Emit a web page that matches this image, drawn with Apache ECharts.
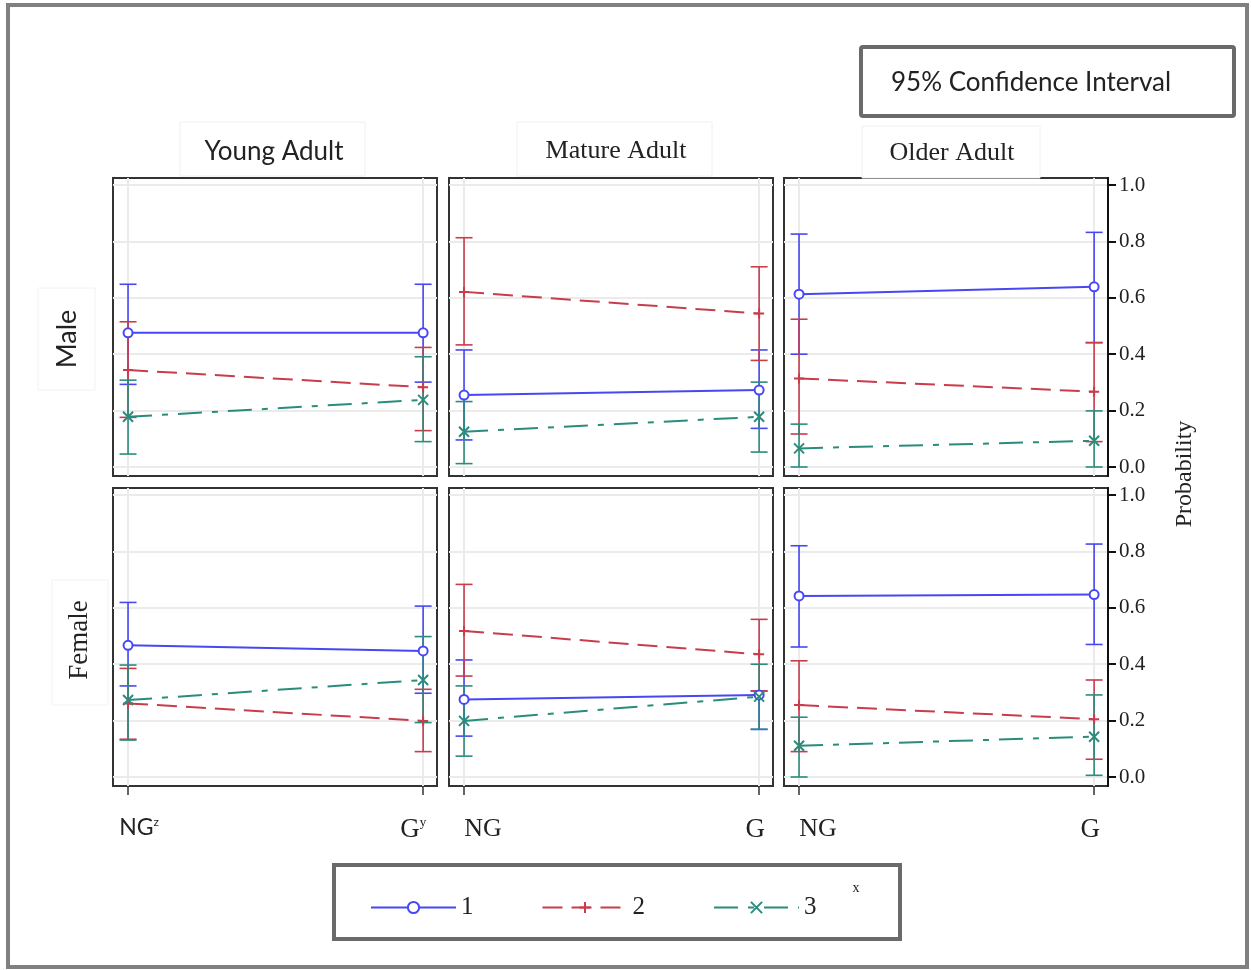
<!DOCTYPE html>
<html><head><meta charset="utf-8">
<script src="https://cdn.jsdelivr.net/npm/echarts@6/dist/echarts.min.js"></script>
<style>html,body{margin:0;padding:0;background:#fff}#c{width:1251px;height:970px}</style>
</head><body><div id="c"></div><script>
// ---------- data ----------
const ageGroups = ['Young Adult', 'Mature Adult', 'Older Adult'];
const sexGroups = ['Male', 'Female'];
const xValues = [0, 1]; // NG, G
const yTicks = [0, 0.2, 0.4, 0.6, 0.8, 1.0];
const seriesNames = ['1', '2', '3'];
// panels order: Male-Young, Male-Mature, Male-Older, Female-Young, Female-Mature, Female-Older
const mean1 = [[0.476,0.476],[0.255,0.273],[0.613,0.639],[0.467,0.447],[0.275,0.291],[0.642,0.647]];
const low1  = [[0.293,0.301],[0.096,0.137],[0.400,0.441],[0.323,0.297],[0.145,0.169],[0.461,0.470]];
const high1 = [[0.648,0.648],[0.415,0.415],[0.826,0.832],[0.619,0.606],[0.415,0.305],[0.820,0.826]];
const mean2 = [[0.344,0.283],[0.621,0.544],[0.314,0.267],[0.261,0.199],[0.518,0.435],[0.255,0.205]];
const low2  = [[0.176,0.129],[0.433,0.378],[0.117,0.090],[0.134,0.090],[0.358,0.305],[0.090,0.063]];
const high2 = [[0.515,0.424],[0.813,0.710],[0.524,0.441],[0.385,0.311],[0.683,0.559],[0.412,0.344]];
const mean3 = [[0.178,0.238],[0.125,0.178],[0.066,0.093],[0.273,0.344],[0.199,0.285],[0.111,0.143]];
const low3  = [[0.046,0.090],[0.012,0.053],[0.000,0.000],[0.131,0.193],[0.074,0.169],[0.000,0.006]];
const high3 = [[0.308,0.391],[0.232,0.301],[0.152,0.199],[0.397,0.498],[0.323,0.400],[0.212,0.291]];

// ---------- styles ----------
const colors = ['#4747F5', '#C83C4C', '#2A8C7C'];
const dashes = ['solid', [20, 9], [24, 10, 6, 10]];
const symbols = ['emptyCircle', 'path://M0,5L10,5M5,0L5,10', 'path://M0,0L10,10M10,0L0,10'];
const means = [mean1, mean2, mean3], lows = [low1, low2, low3], highs = [high1, high2, high3];
const colLeft = [113, 449, 784], colW = 324, rowTop = [178, 488], rowH = 298;
const serif = 'Liberation Serif', sans = 'Lato';

function errRender(color) {
  return function (params, api) {
    const x = api.value(0), lo = api.value(1), hi = api.value(2);
    const p1 = api.coord([x, lo]), p2 = api.coord([x, hi]);
    const hw = 8.5;
    const style = { stroke: color, lineWidth: 1.6, fill: null };
    return { type: 'group', children: [
      { type: 'line', shape: { x1: p1[0], y1: p1[1], x2: p2[0], y2: p2[1] }, style },
      { type: 'line', shape: { x1: p1[0] - hw, y1: p1[1], x2: p1[0] + hw, y2: p1[1] }, style },
      { type: 'line', shape: { x1: p2[0] - hw, y1: p2[1], x2: p2[0] + hw, y2: p2[1] }, style }
    ]};
  };
}

const grids = [], xAxes = [], yAxes = [], series = [];
for (let r = 0; r < 2; r++) {
  for (let c = 0; c < 3; c++) {
    const i = r * 3 + c;
    grids.push({ left: colLeft[c], top: rowTop[r], width: colW, height: rowH, show: true,
      borderColor: '#333', borderWidth: 2, backgroundColor: '#fff' });
    const first = (c === 0);
    xAxes.push({ gridIndex: i, type: 'value', min: -0.051, max: 1.047, position: 'bottom',
      axisLine: { show: false, onZero: false },
      axisTick: { show: r === 1, customValues: xValues, length: 9, lineStyle: { color: '#333', width: 1.5 } },
      axisLabel: { show: r === 1, customValues: xValues, margin: 30,
        formatter: function (v) {
          if (first) return v === 0 ? '{ng1|NG}{sup|z}' : '{g1|G}{supy|y}';
          return v === 0 ? '{ng|NG}' : '{g|G}';
        },
        rich: {
          ng1: { fontFamily: sans, fontSize: 23, color: '#222', padding: [0, 0, 0, 22] },
          sup: { fontFamily: sans, fontSize: 12, color: '#222', verticalAlign: 'top', padding: [0, 0, 10, 0] },
          g1: { fontFamily: serif, fontSize: 27, color: '#222' },
          supy: { fontFamily: serif, fontSize: 13, color: '#222', padding: [0, 20, 14, 0] },
          ng: { fontFamily: serif, fontSize: 26, color: '#222', padding: [0, 0, 0, 38] },
          g: { fontFamily: serif, fontSize: 27, color: '#222', padding: [0, 8, 0, 0] }
        }
      },
      splitLine: { show: true, lineStyle: { color: '#ebebeb', width: 2 } }
    });
    yAxes.push({ gridIndex: i, type: 'value', min: -0.0319, max: 1.0248, position: 'right',
      axisLine: { show: c === 2, onZero: false, lineStyle: { color: '#111', width: 2 } },
      axisTick: { show: c === 2, customValues: yTicks, length: 8, lineStyle: { color: '#111', width: 2 } },
      axisLabel: { show: c === 2, customValues: yTicks, margin: 11, formatter: v => v.toFixed(1),
        fontFamily: serif, fontSize: 21, color: '#222' },
      splitLine: { show: true, lineStyle: { color: '#ebebeb', width: 2 } }
    });
    for (let s = 0; s < 3; s++) {
      series.push({ type: 'custom', name: 'ci' + seriesNames[s], xAxisIndex: i, yAxisIndex: i,
        renderItem: errRender(colors[s]), encode: { x: 0, y: [1, 2] }, z: 2,
        data: xValues.map((x, k) => [x, lows[s][i][k], highs[s][i][k]]) });
    }
    for (let s = 0; s < 3; s++) {
      series.push({ type: 'line', name: seriesNames[s], xAxisIndex: i, yAxisIndex: i, z: 3,
        symbol: symbols[s], symbolSize: s === 0 ? 9 : 10,
        itemStyle: { color: s === 0 ? colors[s] : 'rgba(0,0,0,0)', borderColor: colors[s], borderWidth: 2 },
        lineStyle: { color: colors[s], width: 2, type: dashes[s] },
        data: xValues.map((x, k) => [x, means[s][i][k]]), animation: false });
    }
  }
}

const graphic = [
  { type: 'rect', shape: { x: 8, y: 5, width: 1239, height: 962 }, style: { fill: null, stroke: '#808080', lineWidth: 4 }, z: 100 },
  { type: 'rect', shape: { x: 861, y: 47, width: 373, height: 69, r: 2 }, style: { fill: '#fff', stroke: '#6a6a6a', lineWidth: 4 }, z: 100 },
  { type: 'text', x: 891, y: 83, style: { text: '95% Confidence Interval', font: '26px Lato', fill: '#222', verticalAlign: 'middle' }, z: 101 },
  // column headers
  { type: 'rect', shape: { x: 180, y: 122, width: 185, height: 54 }, style: { fill: '#fff', stroke: '#f0f0f0', lineWidth: 1 }, z: 100 },
  { type: 'text', x: 274, y: 152, style: { text: ageGroups[0], font: '26px Lato', fill: '#222', align: 'center', verticalAlign: 'middle' }, z: 101 },
  { type: 'rect', shape: { x: 517, y: 122, width: 195, height: 54 }, style: { fill: '#fff', stroke: '#f0f0f0', lineWidth: 1 }, z: 100 },
  { type: 'text', x: 616, y: 151, style: { text: ageGroups[1], font: '26px "Liberation Serif"', fill: '#222', align: 'center', verticalAlign: 'middle' }, z: 101 },
  { type: 'rect', shape: { x: 862, y: 126, width: 178, height: 52 }, style: { fill: '#fff', stroke: '#f0f0f0', lineWidth: 1 }, z: 100 },
  { type: 'text', x: 952, y: 153, style: { text: ageGroups[2], font: '26px "Liberation Serif"', fill: '#222', align: 'center', verticalAlign: 'middle' }, z: 101 },
  // row labels
  { type: 'rect', shape: { x: 38, y: 288, width: 57, height: 102 }, style: { fill: '#fff', stroke: '#f2f2f2', lineWidth: 1 }, z: 100 },
  { type: 'text', x: 67, y: 339, rotation: Math.PI / 2, style: { text: sexGroups[0], font: '27px Lato', fill: '#222', align: 'center', verticalAlign: 'middle' }, z: 101 },
  { type: 'rect', shape: { x: 52, y: 580, width: 56, height: 125 }, style: { fill: '#fff', stroke: '#f2f2f2', lineWidth: 1 }, z: 100 },
  { type: 'text', x: 80, y: 640, rotation: Math.PI / 2, style: { text: sexGroups[1], font: '27px "Liberation Serif"', fill: '#222', align: 'center', verticalAlign: 'middle' }, z: 101 },
  // y title
  { type: 'text', x: 1185, y: 474, rotation: Math.PI / 2, style: { text: 'Probability', font: '24px "Liberation Serif"', fill: '#222', align: 'center', verticalAlign: 'middle' }, z: 101 },
  // legend frame
  { type: 'rect', shape: { x: 334, y: 865, width: 566, height: 74 }, style: { fill: null, stroke: '#6a6a6a', lineWidth: 4 }, z: 100 },
  { type: 'text', x: 856, y: 888, style: { text: 'x', font: '14px "Liberation Serif"', fill: '#222', align: 'center', verticalAlign: 'middle' }, z: 101 }
];

const chart = echarts.init(document.getElementById('c'), null, { renderer: 'canvas' });
chart.setOption({
  animation: false,
  backgroundColor: '#fff',
  grid: grids, xAxis: xAxes, yAxis: yAxes, series: series, graphic: graphic,
  legend: { data: seriesNames, left: 365, top: 890, itemWidth: 85, itemHeight: 14, itemGap: 68,
    textStyle: { fontFamily: serif, fontSize: 25, color: '#222' } }
});
</script></body></html>
